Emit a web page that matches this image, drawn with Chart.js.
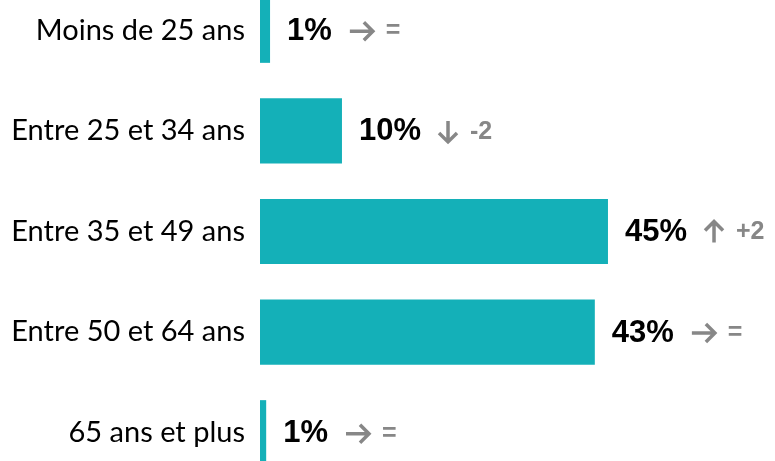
<!DOCTYPE html>
<html>
<head>
<meta charset="utf-8">
<script src="https://cdn.jsdelivr.net/npm/chart.js@4.4.0/dist/chart.umd.min.js"></script>
<style>
  html, body { margin: 0; padding: 0; background: #fff; overflow: hidden; }
  #wrap { position: relative; width: 775px; height: 461px; overflow: hidden; }
  #myChart { position: absolute; left: 0; top: -20px; }
</style>
</head>
<body>
<div id="wrap"><canvas id="myChart" width="775" height="503"></canvas></div>
<script>
const categories = ['Moins de 25 ans', 'Entre 25 et 34 ans', 'Entre 35 et 49 ans', 'Entre 50 et 64 ans', '65 ans et plus'];
const values = [1.3, 10.6, 45, 43.3, 0.8];
const valueLabels = ['1%', '10%', '45%', '43%', '1%'];
const trends = ['flat', 'down', 'up', 'flat', 'flat'];
const changes = ['=', '-2', '+2', '=', '='];

const grey = '#878787';

// value label + trend arrow + change, drawn after the bars
const labelPlugin = {
    id: 'labelPlugin',
    afterDatasetsDraw(chart) {
        const ctx = chart.ctx;
        const meta = chart.getDatasetMeta(0);
        meta.data.forEach(function (bar, i) {
            let x = bar.x + 17;
            const y = bar.y;
            ctx.save();
            ctx.textBaseline = 'middle';
            ctx.textAlign = 'left';
            ctx.fillStyle = '#000';
            ctx.font = 'bold 31px "Liberation Sans", Arial, sans-serif';
            ctx.fillText(valueLabels[i], x, y + 1);
            x += ctx.measureText(valueLabels[i]).width + 18;

            // arrow
            ctx.strokeStyle = grey;
            ctx.lineWidth = 3.5;
            ctx.lineCap = 'butt';
            ctx.lineJoin = 'miter';
            ctx.beginPath();
            if (trends[i] === 'flat') {
                ctx.moveTo(x, y + 1); ctx.lineTo(x + 23, y + 1);
                ctx.moveTo(x + 14, y - 8); ctx.lineTo(x + 23, y + 1); ctx.lineTo(x + 14, y + 10);
                x += 23;
            } else if (trends[i] === 'down') {
                ctx.moveTo(x + 9, y - 10); ctx.lineTo(x + 9, y + 11);
                ctx.moveTo(x, y + 2); ctx.lineTo(x + 9, y + 11); ctx.lineTo(x + 18, y + 2);
                x += 18;
            } else {
                ctx.moveTo(x + 9, y + 11); ctx.lineTo(x + 9, y - 10);
                ctx.moveTo(x, y - 1); ctx.lineTo(x + 9, y - 10); ctx.lineTo(x + 18, y - 1);
                x += 18;
            }
            ctx.stroke();

            ctx.fillStyle = grey;
            ctx.font = 'bold 25px "Liberation Sans", Arial, sans-serif';
            ctx.fillText(changes[i], x + 13, y + 1);
            ctx.restore();
        });
    }
};

const data = {
    labels: categories,
    datasets: [{
        data: values,
        backgroundColor: '#14b0b8',
        borderWidth: 0,
        categoryPercentage: 1,
        barPercentage: 0.647
    }]
};

const config = {
    type: 'bar',
    data: data,
    options: {
        indexAxis: 'y',
        responsive: false,
        animation: false,
        layout: { padding: 0 },
        plugins: {
            legend: { display: false },
            tooltip: { enabled: false }
        },
        scales: {
            x: {
                display: false,
                min: 0,
                max: 66.6
            },
            y: {
                grid: { display: false, drawTicks: false },
                border: { display: false },
                ticks: {
                    color: '#000',
                    padding: 15,
                    font: { family: 'Lato', size: 29 }
                },
                afterFit: function (scale) {
                    scale.width = 260;
                    scale.paddingTop = 0;
                    scale.paddingBottom = 0;
                }
            }
        }
    },
    plugins: [labelPlugin]
};

const myChart = new Chart(document.getElementById('myChart'), config);
</script>
</body>
</html>
